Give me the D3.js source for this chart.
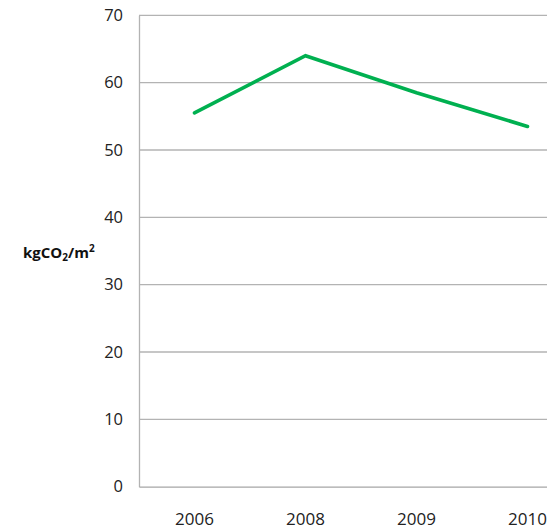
<!DOCTYPE html>
<html>
<head>
<meta charset="utf-8">
<script src="https://cdn.jsdelivr.net/npm/d3@7"></script>
<style>
  html, body { margin: 0; padding: 0; background: #fff; overflow: hidden; }
  svg { display: block; }
  .tick text { font-family: "Open Sans", "Liberation Sans", sans-serif; fill: #222; }
</style>
</head>
<body>
<svg id="chart" width="547" height="531"></svg>
<script>
// Emissions per floor area, by year
const years = ["2006", "2008", "2009", "2010"];
const emissions = [55.5, 64.0, 58.5, 53.5];
const yTicks = [0, 10, 20, 30, 40, 50, 60, 70];

(function () {
  const svg = d3.select("#chart");
  const W = 547;
  const plotLeft = 139, plotTop = 15.3, plotBottom = 486.7;
  const step = 111;

  const x = d3.scaleBand()
    .domain(years)
    .range([plotLeft, plotLeft + step * years.length])
    .paddingInner(0).paddingOuter(0);

  const y = d3.scaleLinear()
    .domain([0, 70])
    .range([plotBottom, plotTop]);

  // horizontal gridlines
  svg.append("g")
    .selectAll("line")
    .data(yTicks.filter(d => d > 0))
    .join("line")
    .attr("x1", plotLeft).attr("x2", W)
    .attr("y1", d => y(d)).attr("y2", d => y(d))
    .attr("stroke", "#b3b3b3")
    .attr("stroke-width", 1.3);

  // y axis
  const yAxis = svg.append("g")
    .attr("transform", `translate(${plotLeft},0)`)
    .call(d3.axisLeft(y).tickValues(yTicks).tickSize(0).tickPadding(16));
  yAxis.select(".domain").attr("stroke", "#b3b3b3").attr("stroke-width", 1.3);
  yAxis.selectAll("text").attr("font-size", 16.5);

  // x axis
  const xAxis = svg.append("g")
    .attr("transform", `translate(0,${plotBottom})`)
    .call(d3.axisBottom(x).tickSize(0).tickPadding(26));
  xAxis.select(".domain").attr("stroke", "#a6a6a6").attr("stroke-width", 1.3);
  xAxis.selectAll("text").attr("font-size", 17);

  // data line
  const line = d3.line()
    .x((d, i) => x(years[i]) + x.bandwidth() / 2)
    .y(d => y(d));

  svg.append("path")
    .datum(emissions)
    .attr("d", line)
    .attr("fill", "none")
    .attr("stroke", "#00b050")
    .attr("stroke-width", 3.6)
    .attr("stroke-linejoin", "miter")
    .attr("stroke-linecap", "round");

  // y axis title
  const title = svg.append("text")
    .attr("x", 23)
    .attr("y", 258)
    .attr("font-family", "'Open Sans', 'Liberation Sans', sans-serif")
    .attr("font-weight", "bold")
    .attr("font-size", 15)
    .attr("fill", "#111");
  title.append("tspan").text("kgCO");
  title.append("tspan").text("2").attr("font-size", 10).attr("dy", 3);
  title.append("tspan").text("/m").attr("dy", -3);
  title.append("tspan").text("2").attr("font-size", 10).attr("dy", -6);
})();
</script>
</body>
</html>
